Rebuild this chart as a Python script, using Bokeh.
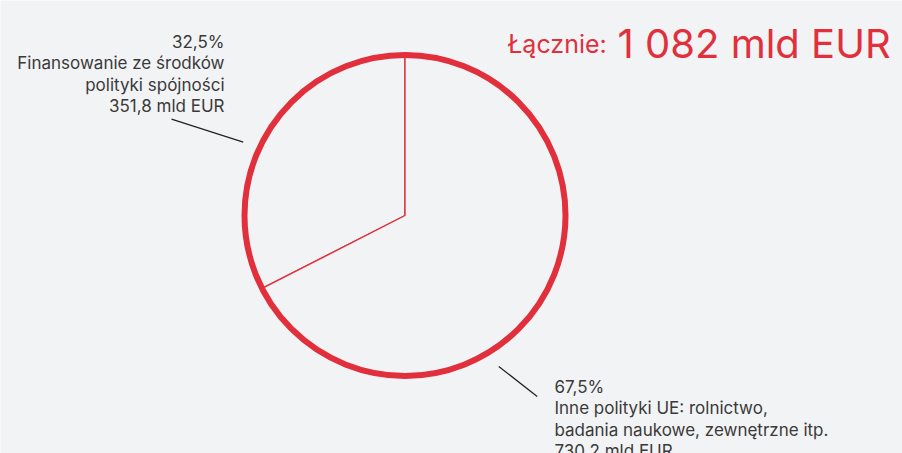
import math
from bokeh.plotting import figure
from bokeh.models import Range1d, ColumnDataSource
from bokeh.core.properties import value
from bokeh.embed import file_html
from bokeh.resources import INLINE

# ---- data ----
categories = [
    ["Finansowanie ze środków", "polityki spójności"],
    ["Inne polityki UE: rolnictwo,", "badania naukowe, zewnętrzne itp."],
]
amounts = [351.8, 730.2]
unit = "mld EUR"
total_prefix = "Łącznie:"

# ---- layout / style ----
W, H = 902, 453
BG = "#f2f3f5"
RED = "#e1303c"
TXT = "#3a3a3a"
FONT = "Inter"

def sx(X):
    return X

def sy(Y):
    return H - Y

total = sum(amounts)

def fmt_num(v):
    return f"{v:.1f}".replace(".", ",")

p = figure(width=W, height=H, output_backend="svg", toolbar_location=None,
           x_range=Range1d(0, W), y_range=Range1d(0, H), min_border=0,
           background_fill_color=BG, border_fill_color=BG, outline_line_color=None)
p.axis.visible = False
p.grid.visible = False

cx, cy, r = sx(404.5), sy(215), 160.5

# wedges from values
starts, ends = [], []
acc = math.pi / 2
for a in amounts:
    ang = 2 * math.pi * a / total
    starts.append(acc)
    ends.append(acc + ang)
    acc += ang
src = ColumnDataSource(dict(x=[cx] * len(amounts), y=[cy] * len(amounts),
                            start=starts, end=ends))
p.wedge(x="x", y="y", radius=r, radius_units="screen", start_angle="start", end_angle="end",
        direction="anticlock", source=src, fill_color=BG, line_color=RED, line_width=1.4)
p.circle(x=[cx], y=[cy], radius=r, radius_units="screen", fill_color=None,
         line_color=RED, line_width=6)

# leader lines
p.segment(x0=[sx(171), sx(498.3)], y0=[sy(118.7), sy(366)],
          x1=[sx(242.7), sx(536.7)], y1=[sy(141.7), sy(396)],
          line_color="#222222", line_width=1.3)

# labels
label_pos = [(224, 41.7, "right"), (554, 386.7, "left")]
LS = 21.2
for i, a in enumerate(amounts):
    lines = [fmt_num(100 * a / total) + "%"] + categories[i] + [fmt_num(a) + " " + unit]
    X, Y0, al = label_pos[i]
    p.text(x=[sx(X)] * len(lines), y=[sy(Y0 + k * LS) for k in range(len(lines))], text=lines,
           text_font=value(FONT), text_font_size="17px", text_color=TXT,
           text_align=al, text_baseline="alphabetic")

# total title
total_str = f"{total:,.0f}".replace(",", " ") + " " + unit
p.text(x=[sx(507)], y=[sy(43.3)], text=[total_prefix], text_font=value(FONT),
       text_font_size="25px", text_color=RED, text_align="left", text_baseline="alphabetic")
p.text(x=[sx(617)], y=[sy(43.3)], text=[total_str], text_font=value(FONT),
       text_font_size="40px", text_color=RED, text_align="left", text_baseline="alphabetic")

open("out.html", "w").write(file_html(p, INLINE))
